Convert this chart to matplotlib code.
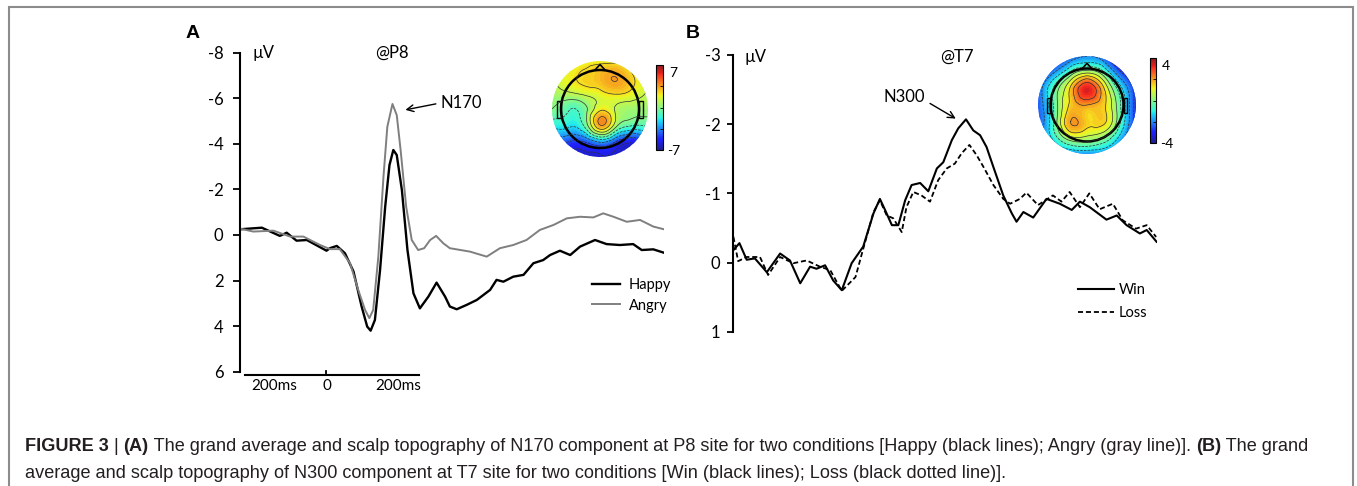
import numpy as np
import matplotlib.pyplot as plt
import matplotlib.tri as mtri
from matplotlib.colors import ListedColormap
from matplotlib.patches import Circle, Rectangle, Polygon

plt.rcParams['axes.unicode_minus'] = False

W, H = 1357, 486
TICKFONT = ['Lato', 'DejaVu Sans']
CAPFONT = ['Liberation Sans', 'DejaVu Sans']

# ---- panel A : N170 at P8 (time in ms, amplitude in uV, negative plotted up)
happy_t = [-200, -149, -107, -91, -68, -44, 2, 10, 26, 45, 65, 84, 97, 105, 115, 127, 139, 149,
           158, 166, 178, 191, 205, 220, 240, 259, 279, 290, 306, 329, 353, 384, 399, 415, 438,
           462, 485, 508, 524, 547, 571, 594, 629, 656, 687, 718, 738, 765, 790]
happy_v = [-0.25, -0.32, 0.04, -0.10, 0.25, 0.22, 0.69, 0.58, 0.48, 0.80, 1.6, 3.14, 4.02, 4.20,
           3.73, 1.54, -1.24, -3.07, -3.73, -3.51, -1.97, 0.66, 2.56, 3.22, 2.7, 2.09, 2.71, 3.14,
           3.26, 3.07, 2.85, 2.41, 1.97, 2.05, 1.83, 1.75, 1.24, 1.10, 0.88, 0.69, 0.88, 0.51,
           0.22, 0.40, 0.44, 0.40, 0.66, 0.63, 0.78]
angry_t = [-200, -169, -122, -83, -52, -13, 10, 33, 57, 76, 92, 102, 111, 123, 135, 144, 156,
           166, 175, 188, 201, 216, 230, 244, 258, 275, 290, 337, 376, 407, 438, 469, 500, 532,
           563, 594, 625, 648, 672, 703, 734, 765, 790]
angry_v = [-0.28, -0.15, -0.19, 0.07, 0.07, 0.44, 0.62, 0.62, 1.24, 2.41, 3.29, 3.65, 3.29, 0.95,
           -2.56, -4.75, -5.75, -5.26, -3.73, -1.24, 0.22, 0.66, 0.58, 0.22, 0.04, 0.37, 0.58,
           0.73, 0.95, 0.58, 0.44, 0.22, -0.22, -0.44, -0.73, -0.80, -0.77, -0.95, -0.80, -0.58,
           -0.66, -0.37, -0.25]

# ---- panel B : N300 at T7
win_t = [-199, -185, -168, -149, -121, -90, -67, -43, -20, -5, 15, 34, 54, 77, 104, 128, 143,
         155, 171, 186, 202, 217, 237, 256, 276, 291, 311, 326, 344, 361, 377, 392, 408, 431,
         451, 462, 478, 501, 532, 563, 591, 610, 633, 672, 696, 719, 750, 766, 789]
win_v = [-0.18, -0.28, -0.04, -0.06, 0.14, -0.13, -0.03, 0.30, 0.06, 0.09, 0.04, 0.26, 0.40,
         0.01, -0.23, -0.71, -0.92, -0.76, -0.54, -0.54, -0.90, -1.12, -1.15, -1.03, -1.36,
         -1.45, -1.77, -1.94, -2.07, -1.91, -1.84, -1.67, -1.38, -0.97, -0.71, -0.59, -0.73,
         -0.65, -0.92, -0.85, -0.76, -0.88, -0.80, -0.62, -0.68, -0.54, -0.42, -0.47, -0.30]
loss_t = [-199, -188, -168, -137, -118, -90, -59, -28, 3, 27, 54, 86, 101, 128, 143, 159, 174,
          194, 205, 221, 240, 260, 279, 299, 318, 334, 352, 369, 385, 408, 431, 447, 470, 485,
          512, 547, 567, 586, 610, 632, 656, 687, 710, 741, 766, 788]
loss_v = [-0.37, -0.02, -0.08, -0.08, 0.18, -0.08, 0.01, -0.03, 0.06, 0.11, 0.41, 0.21, -0.13,
          -0.73, -0.90, -0.68, -0.64, -0.44, -0.80, -1.02, -0.97, -0.88, -1.19, -1.36, -1.43,
          -1.58, -1.70, -1.55, -1.38, -1.12, -0.92, -0.85, -0.92, -1.01, -0.83, -0.97, -0.88,
          -1.02, -0.80, -1.00, -0.77, -0.85, -0.61, -0.49, -0.54, -0.37]

# ---- scalp maps, coarse 7x7 grids (rows top -> bottom, cols left -> right)
topo_a = np.array([
    [1.0, 1.5, 2.0, 2.0, 2.0, 1.5, 1.0],
    [1.0, 2.0, 2.5, 3.0, 3.5, 2.5, 1.5],
    [0.5, 1.0, 1.5, 2.0, 2.5, 2.0, 1.0],
    [0.0, -1.0, -0.5, 2.0, 1.0, 0.5, 0.5],
    [-2.0, -2.0, -1.0, 3.5, 0.5, -1.0, -1.0],
    [-4.0, -4.5, -4.5, -3.0, -4.5, -5.5, -4.0],
    [-6.0, -6.0, -6.0, -6.0, -6.0, -6.0, -6.0]])
topo_b = np.array([
    [-3.0, -3.0, -2.5, -2.0, -2.5, -3.5, -3.5],
    [-3.0, -2.0, -0.5, 0.5, -0.5, -2.5, -3.5],
    [-2.5, -0.5, 1.5, 3.3, 1.5, -1.0, -3.0],
    [-2.5, -0.5, 1.5, 2.0, 1.5, -0.5, -3.0],
    [-2.5, -0.5, 2.0, 1.5, 1.5, -0.5, -3.0],
    [-2.5, -1.0, 0.5, 0.5, 0.0, -1.5, -3.0],
    [-3.0, -2.5, -2.0, -2.0, -2.0, -2.5, -3.0]])

# slightly washed-out jet, like the printed maps
jet = plt.get_cmap('jet')(np.linspace(0, 1, 256))
jet[:, :3] = jet[:, :3] * 0.85 + 0.12
CMAP = ListedColormap(jet)

fig = plt.figure(figsize=(W / 100, H / 100), dpi=100)


def rect(l, t, r, b):
    return [l / W, 1 - b / H, (r - l) / W, (b - t) / H]


def ftext(x, y, s, **kw):
    kw.setdefault('family', TICKFONT)
    kw.setdefault('va', 'center')
    return fig.text(x / W, 1 - y / H, s, **kw)


def erp_axes(l, t, r, b, ylim, yticks, ticklen, pad):
    ax = fig.add_axes(rect(l, t, r, b))
    ax.set_xlim(-200, 790)
    ax.set_ylim(ylim)
    for s in ['top', 'right', 'bottom']:
        ax.spines[s].set_visible(False)
    ax.spines['left'].set_linewidth(1.5)
    ax.set_yticks(yticks)
    ax.tick_params(axis='y', length=ticklen, width=1.3, pad=pad, labelsize=12)
    for lab in ax.get_yticklabels():
        lab.set_family(TICKFONT)
    ax.set_xticks([])
    ax.patch.set_visible(False)
    return ax


def scalp(cx, cy, lim, R, head_px, grid, vmax):
    size = 2 * lim * head_px
    ax = fig.add_axes(rect(cx - size / 2, cy - size / 2, cx + size / 2, cy + size / 2))
    ax.set_xlim(-lim, lim)
    ax.set_ylim(-lim, lim)
    ax.axis('off')
    g = np.linspace(-R, R, grid.shape[0])
    X, Y = np.meshgrid(g, g[::-1])
    tri = mtri.Triangulation(X.ravel(), Y.ravel())
    tri_r, z_r = mtri.UniformTriRefiner(tri).refine_field(grid.ravel(), subdiv=4)
    clip = Circle((0, 0), R, transform=ax.transData)
    cf = ax.tricontourf(tri_r, z_r, levels=np.linspace(-vmax, vmax, 57), cmap=CMAP, extend='both')
    cf.set_clip_path(clip)
    cl = ax.tricontour(tri_r, z_r, levels=np.linspace(-vmax, vmax, 13)[1:-1], colors='#303030',
                       linewidths=0.5)
    cl.set_clip_path(clip)
    ax.add_patch(Circle((0, 0), 1, fill=False, ec='k', lw=1.8))
    ax.add_patch(Polygon([(-0.14, 0.99), (0, 1.14), (0.14, 0.99)], closed=False, fill=False,
                         ec='k', lw=1.2))
    for sx in (-1, 1):
        ax.add_patch(Rectangle((sx * 1.0 - (0.09 if sx < 0 else 0), -0.22), 0.09, 0.42,
                               fill=False, ec='k', lw=1.0))
    return ax


def cbar(l, t, r, b, vmax, top, bottom):
    cax = fig.add_axes(rect(l, t, r, b))
    sm = plt.cm.ScalarMappable(cmap=CMAP, norm=plt.Normalize(-vmax, vmax))
    cb = fig.colorbar(sm, cax=cax)
    cb.set_ticks([-vmax / 2, 0, vmax / 2])
    cb.ax.tick_params(length=2, width=0.6, direction='in', labelright=False)
    cb.outline.set_linewidth(0.8)
    ftext(r + 6, t + 8, top, fontsize=10)
    ftext(r + 4, b + 1, bottom, fontsize=10)


# ------------------------------------------------------------------ panel A
axA = erp_axes(240, 52.7, 664, 371.7, (6, -8), range(-8, 7, 2), 5, 7)
axA.plot(happy_t, happy_v, color='black', lw=1.7, label='Happy', solid_joinstyle='round')
axA.plot(angry_t, angry_v, color='#7f7f7f', lw=1.4, label='Angry', solid_joinstyle='round')
# 200 ms time bar
axA.plot([-188, 218], [6.13, 6.13], color='black', lw=1.5, clip_on=False)
axA.plot([0, 0], [6.13, 5.98], color='black', lw=1.3, clip_on=False)
for t, s in [(-121, '200ms'), (4, '0'), (169, '200ms')]:
    axA.text(t, 6.33, s, ha='center', va='top', fontsize=11, family=TICKFONT, clip_on=False)
axA.annotate('N170', xy=(183, -5.48), xytext=(267, -5.79), fontsize=12, family=TICKFONT,
             va='center', ha='left',
             arrowprops=dict(arrowstyle='->', lw=1.0, color='black', relpos=(0, 0.5),
                             shrinkA=1, shrinkB=1))
axA.legend(loc='upper left', bbox_to_anchor=(592 / W, 1 - 278 / H), bbox_transform=fig.transFigure,
           frameon=False, borderpad=0, borderaxespad=0, handlelength=1.9, handletextpad=0.6,
           labelspacing=0.45, prop={'family': TICKFONT, 'size': 10.5})
ftext(252, 53, 'µV', fontsize=12)
ftext(392, 53, '@P8', fontsize=12, ha='center')
ftext(186, 34, 'A', fontsize=14, weight='bold', family=CAPFONT)

scalp(600, 109, 1.3, 1.23, 39, topo_a, 7)
cbar(656, 65, 663, 150, 7, '7', '-7')

# ------------------------------------------------------------------ panel B
axB = erp_axes(733, 55, 1157, 331.7, (1, -3), range(-3, 2), 4, 5)
axB.plot(win_t, win_v, color='black', lw=1.5, label='Win', solid_joinstyle='round')
axB.plot(loss_t, loss_v, color='black', lw=1.3, dashes=(2.8, 1.6), label='Loss')
axB.annotate('N300', xy=(323, -2.07), xytext=(248, -2.39), fontsize=12, family=TICKFONT,
             va='center', ha='right',
             arrowprops=dict(arrowstyle='->', lw=1.0, color='black', relpos=(1, 0.3),
                             shrinkA=2, shrinkB=1))
axB.legend(loc='upper left', bbox_to_anchor=(1078 / W, 1 - 283 / H), bbox_transform=fig.transFigure,
           frameon=False, borderpad=0, borderaxespad=0, handlelength=2.5, handletextpad=0.3,
           labelspacing=0.6, prop={'family': TICKFONT, 'size': 10.5})
ftext(745, 57, 'µV', fontsize=12)
ftext(957, 57, '@T7', fontsize=12, ha='center')
ftext(686, 34, 'B', fontsize=14, weight='bold', family=CAPFONT)

scalp(1087, 105, 1.4, 1.34, 36.5, topo_b, 4)
cbar(1150, 58, 1156, 143, 4, '4', '-4')

# ------------------------------------------------------------------ frame and caption
fig.patches.append(Rectangle((9 / W, -0.05), (1353 - 9) / W, 1.05 - 7 / H, transform=fig.transFigure,
                             fill=False, ec='#8c8c8c', lw=1.5))

line1 = [('FIGURE 3', 'bold'), (' | ', 'normal'), ('(A)', 'bold'),
         (' The grand average and scalp topography of N170 component at P8 site for two conditions '
          '[Happy (black lines); Angry (gray line)]. ', 'normal'), ('(B)', 'bold'), (' The grand', 'normal')]
line2 = [('average and scalp topography of N300 component at T7 site for two conditions '
          '[Win (black lines); Loss (black dotted line)].', 'normal')]

renderer = fig.canvas.get_renderer()


def run_width(s, weight, fs):
    t1 = fig.text(0, 0, '|' + s + '|', fontsize=fs, weight=weight, family=CAPFONT)
    t2 = fig.text(0, 0, '||', fontsize=fs, weight=weight, family=CAPFONT)
    w = t1.get_window_extent(renderer).width - t2.get_window_extent(renderer).width
    t1.remove()
    t2.remove()
    return w


total = sum(run_width(s, w, 12) for s, w in line1)
cap_fs = 12 * (1313 - 25) / total


def draw_line(runs, y):
    x = 25
    for s, weight in runs:
        fig.text(x / W, 1 - y / H, s, fontsize=cap_fs, weight=weight, family=CAPFONT,
                 va='baseline', color='#231f20')
        x += run_width(s, weight, cap_fs)


draw_line(line1, 451)
draw_line(line2, 478)

fig.savefig('out.png', dpi=100)
